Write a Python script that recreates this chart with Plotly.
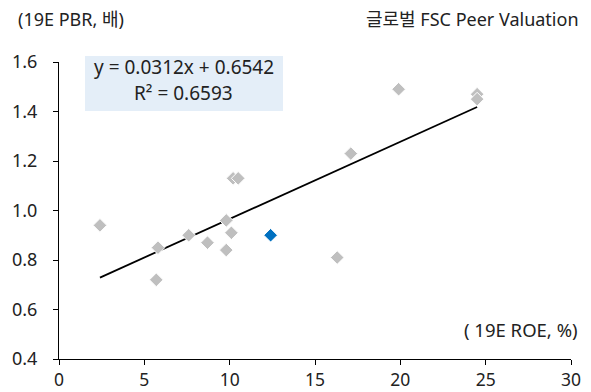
import plotly.graph_objects as go

# Peer data (19E ROE %, 19E PBR x)
peer_roe = [2.4, 5.7, 5.8, 7.6, 8.7, 9.8, 9.8, 10.1, 10.2, 10.5, 16.3, 17.1, 19.9, 24.5, 24.5]
peer_pbr = [0.94, 0.72, 0.85, 0.90, 0.87, 0.84, 0.96, 0.91, 1.13, 1.13, 0.81, 1.23, 1.49, 1.47, 1.45]

# Highlighted company
focus_roe = [12.4]
focus_pbr = [0.90]

# Linear trendline end points
trend_x = [2.4, 24.5]
trend_y = [0.729, 1.418]

eq_text = "y = 0.0312x + 0.6542"
r2_text = "R² = 0.6593"

x_ticks = [0, 5, 10, 15, 20, 25, 30]
y_ticks = [0.4, 0.6, 0.8, 1.0, 1.2, 1.4, 1.6]

FONT = "Noto Sans, Noto Sans CJK KR"
TXT = "#222222"

fig = go.Figure()
fig.add_trace(go.Scatter(
    x=trend_x, y=trend_y, mode="lines",
    line=dict(color="#000000", width=1.8), hoverinfo="skip", showlegend=False))
fig.add_trace(go.Scatter(
    x=peer_roe, y=peer_pbr, mode="markers",
    marker=dict(symbol="diamond", size=10.5, color="#BFBFBF",
                line=dict(color="#FFFFFF", width=1)),
    showlegend=False))
fig.add_trace(go.Scatter(
    x=focus_roe, y=focus_pbr, mode="markers",
    marker=dict(symbol="diamond", size=10.5, color="#0070C0",
                line=dict(color="#FFFFFF", width=1)),
    showlegend=False))

fig.add_shape(type="rect", xref="paper", yref="paper",
              x0=0.0508, x1=0.4375, y0=0.835, y1=1.0202,
              fillcolor="#E4EEF8", line=dict(width=0), layer="below")

fig.add_annotation(text=eq_text, xref="paper", yref="paper", x=0.244, y=0.983,
                   showarrow=False, font=dict(family=FONT, size=19, color=TXT),
                   xanchor="center", yanchor="middle")
fig.add_annotation(text=r2_text, xref="paper", yref="paper", x=0.244, y=0.896,
                   showarrow=False, font=dict(family=FONT, size=19, color=TXT),
                   xanchor="center", yanchor="middle")
fig.add_annotation(text="(19E PBR, 배)", xref="paper", yref="paper", x=-0.084, y=1.1448,
                   showarrow=False, font=dict(family=FONT, size=18, color=TXT),
                   xanchor="left", yanchor="middle")
fig.add_annotation(text="글로벌 FSC Peer Valuation", xref="paper", yref="paper", x=1.0195, y=1.1448,
                   showarrow=False, font=dict(family=FONT, size=18, color=TXT),
                   xanchor="right", yanchor="middle")
fig.add_annotation(text="( 19E ROE, %)", xref="paper", yref="paper", x=1.0176, y=0.098,
                   showarrow=False, font=dict(family=FONT, size=18.5, color=TXT),
                   xanchor="right", yanchor="middle")

fig.update_layout(
    width=591, height=392,
    margin=dict(l=59, r=20, t=62, b=33, autoexpand=False),
    paper_bgcolor="white", plot_bgcolor="white",
    font=dict(family=FONT, size=18, color=TXT),
    xaxis=dict(range=[0, 30], tickvals=x_ticks, ticktext=[str(v) for v in x_ticks],
               showgrid=False, zeroline=False, showline=True, linecolor="#000000",
               linewidth=1, ticks="outside", ticklen=5, tickcolor="#000000",
               automargin=False, ticklabelstandoff=0,
               tickfont=dict(family=FONT, size=17.5, color=TXT)),
    yaxis=dict(range=[0.4, 1.6], tickvals=y_ticks, ticktext=[f"{v:.1f}" for v in y_ticks],
               showgrid=False, zeroline=False, showline=True, linecolor="#000000",
               linewidth=1, ticks="outside", ticklen=5, tickcolor="#000000",
               automargin=False, ticklabelstandoff=12,
               tickfont=dict(family=FONT, size=18, color=TXT)),
)

fig.write_html("out.html", config={"displayModeBar": False},
               post_script="document.body.style.margin='0';document.body.style.padding='0';")
